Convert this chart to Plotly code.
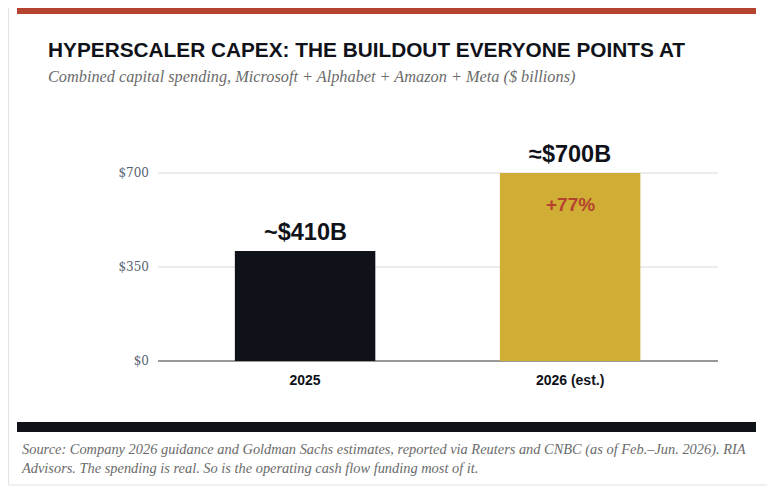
import plotly.graph_objects as go

categories = ["2025", "2026 (est.)"]
values = [410, 700]
bar_labels = ["~$410B", "≈$700B"]
bar_colors = ["#10121a", "#d0ad34"]
growth_label = "+77%"
tick_vals = [0, 350, 700]
tick_text = ["$0", "$350", "$700"]

title = "HYPERSCALER CAPEX: THE BUILDOUT EVERYONE POINTS AT"
subtitle = "Combined capital spending, Microsoft + Alphabet + Amazon + Meta ($ billions)"
footer = ("Source: Company 2026 guidance and Goldman Sachs estimates, reported via Reuters and CNBC (as of Feb.–Jun. 2026). RIA<br>"
          "Advisors. The spending is real. So is the operating cash flow funding most of it.")

OFF = 8  # page body margin
W, H = 775 - OFF, 495 - OFF
L, R = 158 - OFF, 718 - OFF
T, B = 141 - OFF, 361 - OFF
YMAX = 700 * (B - T) / 188.0

def px(x):
    return (x - OFF - L) / (R - L)

def py(y):
    return (B - (y - OFF)) / (B - T)

fig = go.Figure()
fig.add_trace(go.Bar(
    x=categories, y=values,
    marker=dict(color=bar_colors, line=dict(width=0)),
    width=0.53, hoverinfo="skip",
))

annotations = []
for i, (v, t) in enumerate(zip(values, bar_labels)):
    annotations.append(dict(x=i, y=v, xref="x", yref="y", text="<b>%s</b>" % t,
                            showarrow=False, yanchor="bottom", yshift=4,
                            font=dict(family="Liberation Sans, Arial", size=23.5, color="#10121a")))
annotations.append(dict(x=1, y=values[1], xref="x", yref="y",
                        text="<b>%s</b>" % growth_label, showarrow=False,
                        yanchor="top", yshift=-19,
                        font=dict(family="Liberation Sans, Arial", size=19, color="#b4432f")))
annotations.append(dict(x=px(46), y=py(49), xref="paper", yref="paper", xanchor="left", yanchor="middle",
                        text="<b>%s</b>" % title, showarrow=False,
                        font=dict(family="Liberation Sans, Arial", size=20.8, color="#10121a")))
annotations.append(dict(x=px(46), y=py(77), xref="paper", yref="paper", xanchor="left", yanchor="middle",
                        text="<i>%s</i>" % subtitle, showarrow=False,
                        font=dict(family="Liberation Serif, serif", size=16.3, color="#6b6b6b")))
annotations.append(dict(x=px(19), y=py(458), xref="paper", yref="paper", xanchor="left", yanchor="middle",
                        text="<i>%s</i>" % footer, showarrow=False, align="left",
                        font=dict(family="Liberation Serif, serif", size=14.4, color="#6b6b6b")))

shapes = [
    dict(type="rect", xref="paper", yref="paper", x0=px(OFF + 0.5), x1=px(772), y0=py(0), y1=py(485),
         line=dict(color="#e2e2e2", width=1), fillcolor="rgba(0,0,0,0)", layer="below"),
    dict(type="rect", xref="paper", yref="paper", x0=px(17), x1=px(756), y0=py(8), y1=py(14),
         line=dict(width=0), fillcolor="#b4432f"),
    dict(type="rect", xref="paper", yref="paper", x0=px(17), x1=px(756), y0=py(422), y1=py(432),
         line=dict(width=0), fillcolor="#10121a"),
]

fig.update_layout(
    width=W, height=H,
    margin=dict(l=L, r=W - R, t=T, b=H - B, pad=0),
    paper_bgcolor="white", plot_bgcolor="white",
    showlegend=False, annotations=annotations, shapes=shapes,
)
fig.update_xaxes(type="category", range=[-0.555, 1.558], showgrid=False, showline=False, ticks="",
                 tickfont=dict(family="Liberation Sans, Arial", size=14, color="#10121a"),
                 ticklabelstandoff=9, fixedrange=True,
                 tickvals=categories, ticktext=["<b>%s</b>" % c for c in categories])
fig.update_yaxes(range=[0, YMAX], tickvals=tick_vals, ticktext=tick_text,
                 showgrid=True, gridcolor="#ececec", gridwidth=2,
                 zeroline=True, zerolinecolor="#999999", zerolinewidth=2,
                 showline=False, ticks="", ticklabelstandoff=8,
                 tickfont=dict(family="DejaVu Serif, serif", size=12, color="#555e70"),
                 fixedrange=True)

fig.write_html("out.html", config={"displayModeBar": False})
